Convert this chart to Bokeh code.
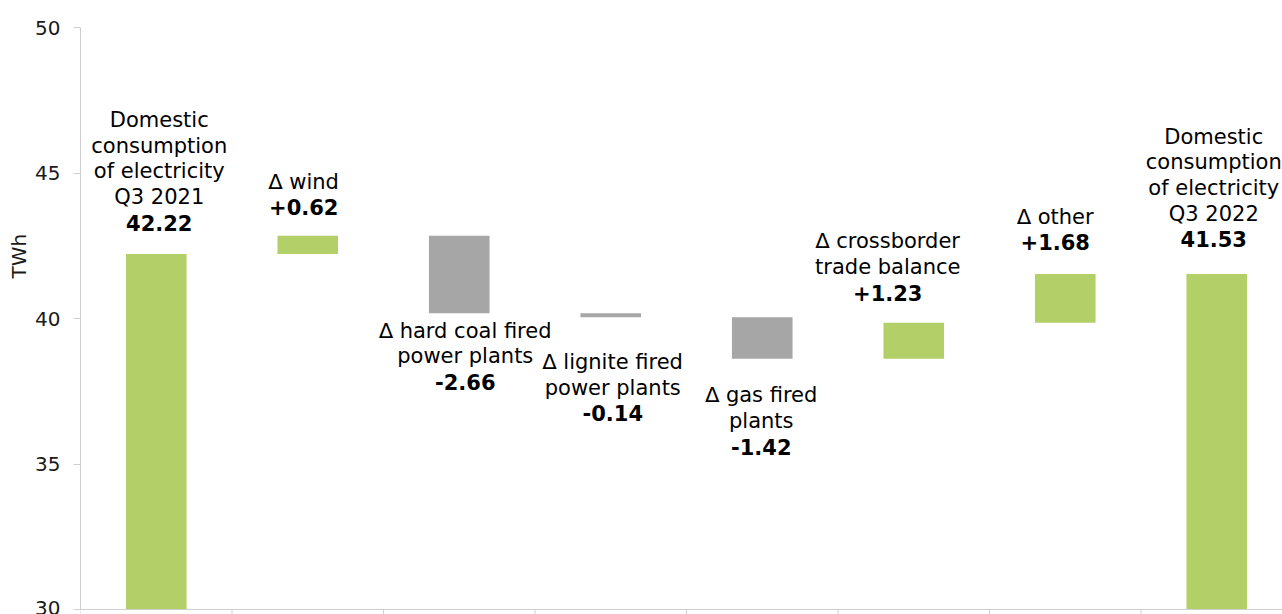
from bokeh.plotting import figure
from bokeh.models import Range1d, FixedTicker, ColumnDataSource, Title
from bokeh.core.properties import value
from bokeh.embed import file_html
from bokeh.resources import INLINE

# ---- data (TWh) ----
category_lines = [
    ["Domestic", "consumption", "of electricity", "Q3 2021"],
    ["\u2206 wind"],
    ["\u2206 hard coal fired", "power plants"],
    ["\u2206 lignite fired", "power plants"],
    ["\u2206 gas fired", "plants"],
    ["\u2206 crossborder", "trade balance"],
    ["\u2206 other"],
    ["Domestic", "consumption", "of electricity", "Q3 2022"],
]
start_total = 42.22
changes = [0.62, -2.66, -0.14, -1.42, 1.23, 1.68]
end_total = 41.53
y_ticks = [30, 35, 40, 45, 50]
unit = "TWh"

# ---- styling / layout ----
GREEN = "#b3cf68"
GREY = "#a6a6a6"
AXIS = "#cfcfcf"
FONT = "DejaVu Sans"
LINE_H = 25.7          # label line spacing, px
CAT_PX = 151.5         # width of one category slot, px
PX_PER_UNIT = 29.1     # vertical scale, px per TWh
FRAME_W = 1202
TICK_OUT = 5           # category tick length below the baseline, px
# per-label nudges in pixels: horizontal shift and gap from the bar edge
label_dx = [3, -4, 6, 2, -1, -26, -10, -3]
label_gap = [31, 28.5, 17.5, 44.5, 36.5, 30, 31.5, 34.5]

# ---- waterfall geometry ----
levels = [start_total]
for c in changes:
    levels.append(levels[-1] + c)

n = len(category_lines)
xs = [i + 0.5 for i in range(n)]
floor = y_ticks[0]
bottoms = [floor] + [min(levels[i], levels[i + 1]) for i in range(len(changes))] + [floor]
tops = [start_total] + [max(levels[i], levels[i + 1]) for i in range(len(changes))] + [end_total]
kinds = ["total"] + ["up" if c >= 0 else "down" for c in changes] + ["total"]
colors = [GREY if k == "down" else GREEN for k in kinds]
value_text = [f"{start_total:.2f}"] + [f"{c:+.2f}" for c in changes] + [f"{end_total:.2f}"]

bars = ColumnDataSource(dict(x=xs, bottom=bottoms, top=tops, color=colors))

y_lo = y_ticks[0] - TICK_OUT / PX_PER_UNIT
y_hi = y_ticks[-1]
x_hi = FRAME_W / CAT_PX

p = figure(
    frame_width=FRAME_W, frame_height=round((y_hi - y_lo) * PX_PER_UNIT),
    x_range=Range1d(0, x_hi), y_range=Range1d(y_lo, y_hi),
    output_backend="svg", toolbar_location=None, x_axis_location=None,
    min_border_left=80, min_border_right=0, min_border_top=27, min_border_bottom=0,
)
p.outline_line_color = None
p.grid.visible = False
p.background_fill_color = "white"
p.border_fill_color = "white"

p.vbar(x="x", bottom="bottom", top="top", width=0.4, color="color",
       line_color=None, source=bars)

# category axis: baseline at the bottom value plus a tick at every slot boundary
p.segment(x0=[0], y0=[floor], x1=[x_hi], y1=[floor], line_color=AXIS, line_width=1)
edges = list(range(n + 1))
p.segment(x0=edges, y0=[floor] * len(edges), x1=edges, y1=[y_lo] * len(edges),
          line_color=AXIS, line_width=1)

# ---- labels ----
norm = dict(x=[], y=[], text=[], xo=[], yo=[])
bold = dict(x=[], y=[], text=[], xo=[], yo=[])
for i in range(n):
    lines = category_lines[i]
    if kinds[i] == "down":
        anchor = bottoms[i]
        base = label_gap[i]
        for k, line in enumerate(lines):
            norm["x"].append(xs[i]); norm["y"].append(anchor); norm["text"].append(line)
            norm["xo"].append(label_dx[i]); norm["yo"].append(base + k * LINE_H)
        bold["x"].append(xs[i]); bold["y"].append(anchor); bold["text"].append(value_text[i])
        bold["xo"].append(label_dx[i]); bold["yo"].append(base + len(lines) * LINE_H)
    else:
        anchor = tops[i]
        base = -label_gap[i]
        bold["x"].append(xs[i]); bold["y"].append(anchor); bold["text"].append(value_text[i])
        bold["xo"].append(label_dx[i]); bold["yo"].append(base)
        m = len(lines)
        for k, line in enumerate(lines):
            norm["x"].append(xs[i]); norm["y"].append(anchor); norm["text"].append(line)
            norm["xo"].append(label_dx[i]); norm["yo"].append(base - (m - k) * LINE_H)

p.text(x="x", y="y", text="text", x_offset="xo", y_offset="yo",
       source=ColumnDataSource(norm), text_align="center", text_baseline="alphabetic",
       text_font=value(FONT), text_font_size="21px", text_color="#000000")
p.text(x="x", y="y", text="text", x_offset="xo", y_offset="yo",
       source=ColumnDataSource(bold), text_align="center", text_baseline="alphabetic",
       text_font=value(FONT), text_font_size="21px", text_font_style="bold",
       text_color="#000000")

# ---- value axis ----
ya = p.yaxis[0]
ya.ticker = FixedTicker(ticks=y_ticks)
ya.bounds = (y_ticks[0], y_ticks[-1])
ya.axis_line_color = AXIS
ya.major_tick_line_color = AXIS
ya.major_tick_out = 7
ya.major_tick_in = 0
ya.minor_tick_line_color = None
ya.major_label_text_font = FONT
ya.major_label_text_font_size = "20px"
ya.major_label_text_color = "#1a1a1a"
ya.major_label_standoff = 13

# unit title, left of the tick labels, raised above the axis middle
p.add_layout(Title(
    text=unit, align="left", offset=336, standoff=4,
    text_font=FONT, text_font_size="20px", text_font_style="normal",
    text_color="#1a1a1a",
), "left")

open("out.html", "w").write(file_html(p, INLINE))
